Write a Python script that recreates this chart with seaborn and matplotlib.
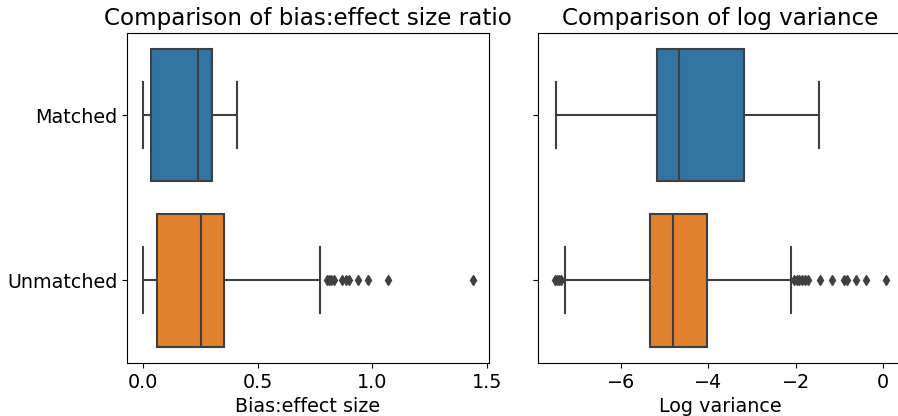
import pandas as pd
import matplotlib
matplotlib.use("Agg")
import matplotlib.pyplot as plt
import seaborn as sns

# group names (y categories)
groups = ["Matched", "Unmatched"]

# bias:effect size ratio per simulation
bias_matched = [0.0, 0.015, 0.033, 0.12, 0.240, 0.27, 0.298, 0.35, 0.408]
bias_unmatched = [
    0.0, 0.004, 0.008, 0.012, 0.017, 0.022, 0.028, 0.034, 0.040, 0.046, 0.051, 0.055,
    0.059,
    0.075, 0.09, 0.11, 0.13, 0.15, 0.17, 0.19, 0.205, 0.22, 0.235, 0.245,
    0.252,
    0.26, 0.27, 0.28, 0.29, 0.30, 0.31, 0.32, 0.33, 0.335, 0.34, 0.345,
    0.351,
    0.773, 0.802, 0.810, 0.818, 0.830, 0.868, 0.886, 0.899, 0.937, 0.980, 1.068, 1.437,
]

# log variance per simulation
logvar_matched = [-7.49, -6.2, -5.17, -4.9, -4.67, -3.9, -3.18, -2.3, -1.47]
logvar_unmatched = [
    -7.51, -7.46, -7.41, -7.36, -7.28, -7.0, -6.7, -6.4, -6.1, -5.9, -5.7, -5.55, -5.45, -5.39,
    -5.34,
    -5.28, -5.22, -5.17, -5.12, -5.08, -5.04, -5.0, -4.96, -4.93, -4.90, -4.87, -4.85, -4.83,
    -4.82,
    -4.78, -4.74, -4.70, -4.66, -4.62, -4.57, -4.50, -4.43, -4.36, -4.28, -4.20, -4.12, -4.07,
    -4.04,
    -2.10, -2.05, -1.98, -1.92, -1.85, -1.78, -1.72, -1.45, -1.18, -0.90, -0.82, -0.63, -0.40, 0.07,
]

bias_df = pd.DataFrame({
    "group": [groups[0]] * len(bias_matched) + [groups[1]] * len(bias_unmatched),
    "ratio": bias_matched + bias_unmatched,
})
logvar_df = pd.DataFrame({
    "group": [groups[0]] * len(logvar_matched) + [groups[1]] * len(logvar_unmatched),
    "logvar": logvar_matched + logvar_unmatched,
})

plt.rcParams["font.size"] = 13.8

fig = plt.figure(figsize=(8.98, 4.16), dpi=100)
ax1 = fig.add_axes([0.1414, 0.1274, 0.4031, 0.7933])
ax2 = fig.add_axes([0.5995, 0.1274, 0.4060, 0.7933])

flier = dict(marker="d", markersize=5, markerfacecolor="0.25", markeredgecolor="0.25")
pal = dict(zip(groups, sns.color_palette("tab10", 2)))

sns.boxplot(data=bias_df, x="ratio", y="group", hue="group", order=groups,
            palette=pal, legend=False, linewidth=1.5, flierprops=flier, ax=ax1)
sns.boxplot(data=logvar_df, x="logvar", y="group", hue="group", order=groups,
            palette=pal, legend=False, linewidth=1.5, flierprops=flier, ax=ax2)

ax1.set_title("Comparison of bias:effect size ratio", fontsize=16.6)
ax1.set_xlabel("Bias:effect size")
ax1.set_ylabel("")
ax1.set_xticks([0.0, 0.5, 1.0, 1.5])

ax2.set_title("Comparison of log variance", fontsize=16.6)
ax2.set_xlabel("Log variance")
ax2.set_ylabel("")
ax2.tick_params(labelleft=False)

fig.savefig("out.png", dpi=100)
